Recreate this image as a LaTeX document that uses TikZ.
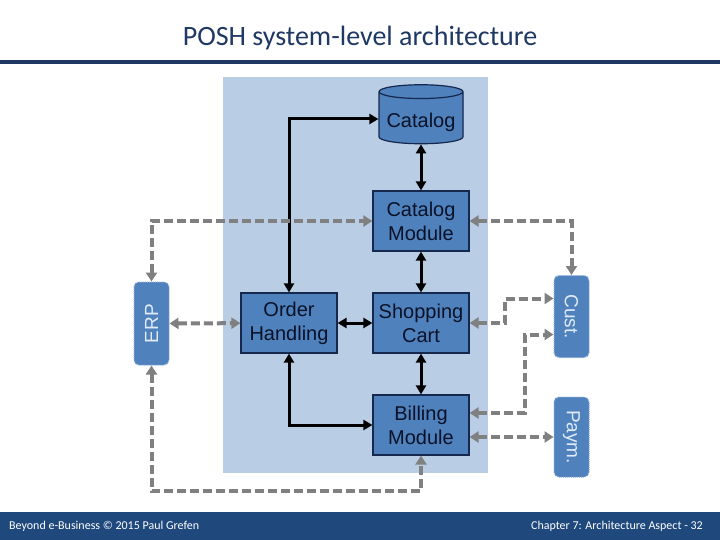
\documentclass[tikz,border=0pt]{standalone}
\usepackage{fontspec}
\setmainfont{Liberation Sans}
\newfontfamily\slidefont{Carlito}
\usetikzlibrary{arrows.meta, calc, shapes.geometric}

\definecolor{panel}{RGB}{185,205,229}
\definecolor{modfill}{RGB}{79,129,189}
\definecolor{modtop}{RGB}{125,160,206}
\definecolor{modline}{RGB}{22,40,78}
\definecolor{modtext}{RGB}{10,18,40}
\definecolor{extline}{RGB}{140,170,215}
\definecolor{exttext}{RGB}{225,235,248}
\definecolor{slideblue}{RGB}{31,73,125}
\definecolor{titleblue}{RGB}{31,56,100}
\definecolor{linkgray}{RGB}{128,128,128}

\begin{document}
\begin{tikzpicture}[x=1pt, y=-1pt,
    mod/.style={draw=modline, line width=1.2pt, fill=modfill, text=modtext, align=center,
      minimum width=96pt, minimum height=60pt, inner sep=0pt, font=\fontsize{20}{24}\selectfont},
    ext/.style={draw=extline, densely dotted, line width=1pt, fill=modfill, text=exttext,
      rounded corners=5pt, minimum height=35pt, inner sep=0pt, font=\fontsize{19}{22}\selectfont},
    flow/.style={line width=3pt, {Triangle[length=9pt,width=10pt]}-{Triangle[length=9pt,width=10pt]}},
    link/.style={draw=linkgray, line width=4pt, dash pattern=on 9pt off 4pt,
      {Triangle[length=9pt,width=11pt]}-{Triangle[length=9pt,width=11pt]}}]
    \useasboundingbox (0,0) rectangle (720,540);
    \fill[white] (0,0) rectangle (720,540);

    \node[font=\slidefont\fontsize{28}{32}\selectfont, text=titleblue, inner sep=0pt] (title) at (360,38) {POSH system-level architecture};
    \draw[titleblue, line width=3.5pt] (0,62) -- (720,62);

    \fill[slideblue] (0,512) rectangle (720,540);
    \node[anchor=west, inner sep=0pt, text=white, font=\slidefont\fontsize{12}{14}\selectfont] (author) at (9,526) {Beyond e-Business © 2015 Paul Grefen};
    \node[anchor=east, inner sep=0pt, text=white, font=\slidefont\fontsize{12}{14}\selectfont] (chapter) at (703,526) {Chapter 7: Architecture Aspect - 32};

    \fill[panel] (223,77) rectangle (488,473);

    \node[mod, cylinder, shape border rotate=90, aspect=0.2, minimum width=84pt, minimum height=59pt,
      text height=24pt, text depth=4pt,
      cylinder uses custom fill, cylinder body fill=modfill, cylinder end fill=modtop] (cat) at (421,118) {Catalog};
    \node[mod] (catmod) at (421,221) {Catalog\\Module};
    \node[mod] (order) at (289,323) {Order\\Handling};
    \node[mod] (cart) at (421,323) {Shopping\\Cart};
    \node[mod] (bill) at (421,425) {Billing\\Module};

    \node[ext, rotate=90, minimum width=83pt] (erp) at (151.5,323.5) {ERP};
    \node[ext, rotate=-90, minimum width=82pt] (cust) at (571.5,316.5) {Cust.};
    \node[ext, rotate=-90, minimum width=80pt] (paym) at (571.5,437) {Paym.};

    \coordinate (bus) at (0,491);

    \draw[flow] (cat) -- (catmod);
    \draw[flow] (catmod) -- (cart);
    \draw[flow] (cart) -- (bill);
    \draw[flow] (order) -- (cart);
    \draw[flow] (order.north) |- ($(cat.west)+(0,1)$);
    \draw[flow] (order.south) |- (bill);

    \draw[link] (erp.east) |- (catmod);
    \draw[link] (erp) -- (order);
    \draw[link] (erp.west) |- (bus -| bill.south) -- (bill.south);
    \draw[link] (catmod) -| (cust.west);
    \draw[link] (cart.east) -- ++(35,0) |- ($(cust.south)+(0,-18)$);
    \draw[link] ($(bill.east)+(0,-12)$) -- ++(55,0) |- ($(cust.south)+(0,18)$);
    \draw[link] ($(bill.east)+(0,12)$) -- (paym);
\end{tikzpicture}
\end{document}
